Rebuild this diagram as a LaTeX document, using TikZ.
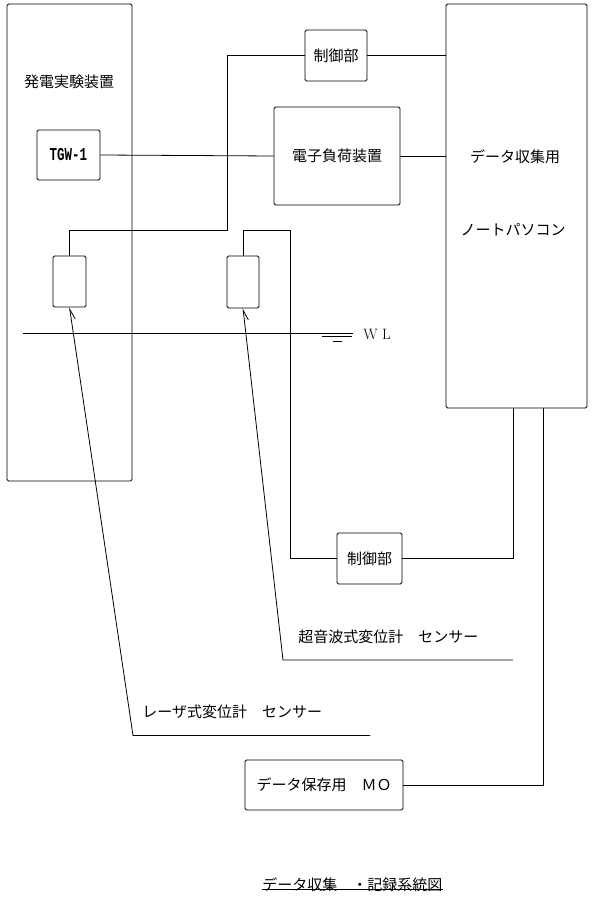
\documentclass[tikz,border=0pt]{standalone}
\usepackage{fontspec}
\usepackage{graphicx}
\newfontfamily\jp{Noto Sans CJK JP}
\newfontfamily\mono{Liberation Mono}
\usetikzlibrary{arrows.meta}
\begin{document}
\begin{tikzpicture}[x=1pt,y=-1pt,
  line width=0.8pt,
  box/.style={draw, rounded corners=1.5pt, inner sep=0pt, anchor=center},
  jtext/.style={font=\jp\fontsize{15}{18}\selectfont, inner sep=0pt},
  sensorarrow/.style={-{Straight Barb[harpoon,swap,length=10pt,width=8pt]}},
  wire/.style={line width=0.8pt}]
\useasboundingbox (0,0) rectangle (600,901);
% boxes
\node[box, minimum width=125pt, minimum height=477pt] (lab) at (69.5,242.5) {};
\node[jtext] (labtext) at (69,82) {発電実験装置};
\node[box, minimum width=63pt, minimum height=50pt, font=\mono\bfseries\fontsize{12.5}{14}\selectfont] (tgw) at (68.5,155) {\scalebox{1}[1.45]{TGW-1}};
\node[box, jtext, minimum width=126pt, minimum height=98pt] (load) at (337,156) {電子負荷装置};
\node[box, jtext, minimum width=62pt, minimum height=51pt] (ctrlA) at (336,55.5) {制御部};
\node[box, minimum width=141pt, minimum height=404pt] (pc) at (516.5,206) {};
\node[jtext] (pctextA) at (515,157) {データ収集用};
\node[jtext] (pctextB) at (513,230) {ノートパソコン};
\node[box, minimum width=33pt, minimum height=51pt] (sA) at (69.5,281.5) {};
\node[box, minimum width=32pt, minimum height=52pt] (sB) at (243,282) {};
\node[box, jtext, minimum width=65pt, minimum height=51pt] (ctrlB) at (369.5,558.5) {制御部};
\node[box, jtext, minimum width=158pt, minimum height=50pt] (mo) at (324,785) {データ保存用　ＭＯ};
% coordinates
\coordinate (jA) at (227,230);
\coordinate (jB) at (290,230);
\coordinate (pA) at (513,408);
\coordinate (pB) at (543,408);
% wires
\draw[wire] (tgw.east) -- (load.west);
\draw[wire] (load.east) -- (load.east -| pc.west);
\draw[wire] (ctrlA.east) -- (ctrlA.east -| pc.west);
\draw[wire] (ctrlA.west) -| (jA) -| (sA.north);
\draw[wire] (sB.north) |- (jB) |- (ctrlB.west);
\draw[wire] (ctrlB.east) -| (pA);
\draw[wire] (pB) |- (mo.east);
% water level
\coordinate (wlL) at (23,333.3);
\coordinate (wlR) at (353,333.3);
\coordinate (gAL) at (322,336.5);
\coordinate (gAR) at (352,336.5);
\coordinate (gBL) at (333,341.5);
\coordinate (gBR) at (342,341.5);
\draw[wire] (wlL) -- (wlR);
\draw[line width=0.7pt] (gAL) -- (gAR);
\draw[line width=0.7pt] (gBL) -- (gBR);
\node[font=\fontsize{15}{18}\selectfont, inner sep=0pt] (wl) at (377,334) {W L};
% sensor pointers
\coordinate (laserEnd) at (370,735.5);
\coordinate (laserBend) at (133,735.5);
\coordinate (sonicEnd) at (513,660);
\coordinate (sonicBend) at (283,660);
\draw[wire, sensorarrow] (laserEnd) -- (laserBend) -- (sA.south);
\draw[wire, sensorarrow] (sonicEnd) -- (sonicBend) -- (sB.south);
\node[jtext, anchor=west] (laser) at (142,712) {レーザ式変位計　センサー};
\node[jtext, anchor=west] (sonic) at (298,637) {超音波式変位計　センサー};
% title
\node[jtext, anchor=west] (title) at (262,885) {データ収集　・記録系統図};
\draw[line width=0.7pt] ([yshift=3pt]title.south west) -- ([yshift=3pt]title.south east);
\end{tikzpicture}
\end{document}
